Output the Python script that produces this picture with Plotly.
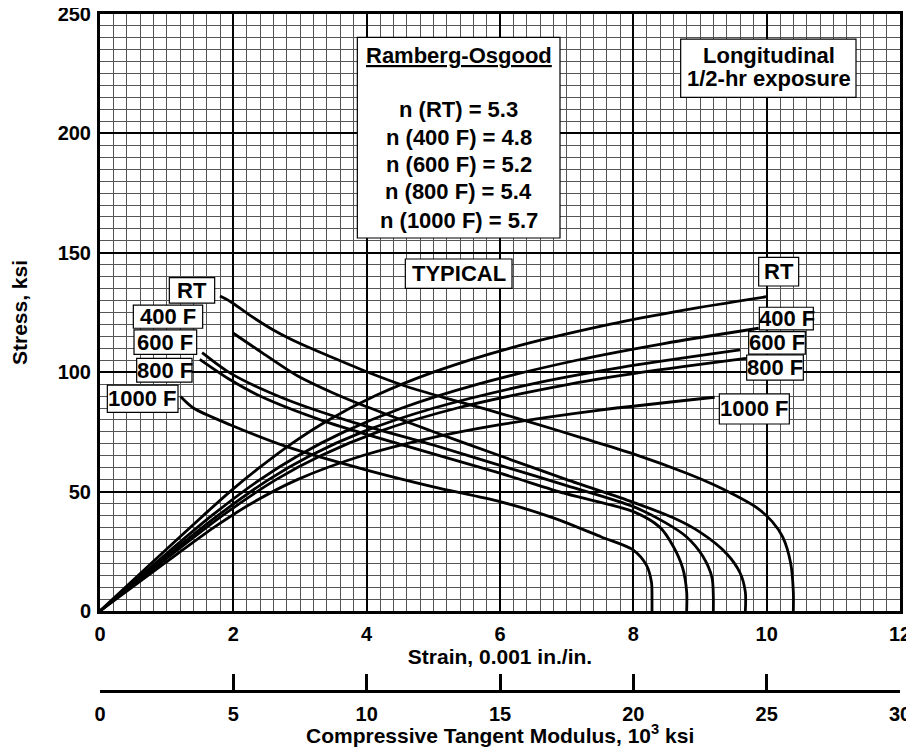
import plotly.graph_objects as go

# Stress-strain curves: strain (0.001 in./in.) vs stress (ksi)
rt_strain = [0, 0.77, 1.55, 1.95, 2.39, 2.87, 3.43, 4.12, 5.0, 6.14, 7.64, 8.76, 10.0]
rt_stress = [0, 20, 40, 50, 60, 70, 80, 90, 100, 110, 120, 126, 131.6]

f400_strain = [0, 0.83, 1.68, 2.40, 2.97, 3.66, 4.53, 5.67, 7.15, 8.46, 9.88]
f400_stress = [0, 20, 40, 55, 65, 75, 85, 95, 105, 112, 118.4]

f600_strain = [0, 0.87, 1.77, 2.53, 3.15, 3.94, 5.01, 6.47, 7.82, 9.60]
f600_stress = [0, 20, 40, 55, 65, 75, 85, 95, 102, 109.3]

f800_strain = [0, 0.91, 1.84, 2.64, 3.31, 4.17, 5.36, 7.05, 8.14, 9.69]
f800_stress = [0, 20, 40, 55, 65, 75, 85, 95, 100, 105.8]

f1000_strain = [0, 0.97, 1.71, 2.27, 2.96, 3.93, 4.89, 6.00, 7.47, 9.22]
f1000_stress = [0, 20, 35, 45, 55, 65, 72, 78, 84, 89.5]

# Tangent modulus curves: modulus (10^3 ksi) vs stress (ksi)
rt_mod = [4.5, 4.9, 5.6, 6.5, 7.5, 8.5, 10.0, 11.5, 13.0, 14.4, 16.1, 18.1, 20.0, 22.0, 23.0, 23.8, 24.6, 25.2, 25.6, 25.9, 26.0, 26.0]
rt_mod_stress = [131.9, 129.5, 124, 117.7, 112, 107.2, 100.2, 94.0, 89.0, 84.7, 79.2, 72.4, 65.8, 57.7, 53.0, 48.6, 43.5, 37.5, 31.0, 20, 8, 0]

f400_mod = [5.0, 6.1, 7.4, 8.7, 10.0, 12.4, 15.0, 17.5, 20.0, 21.5, 22.5, 23.5, 24.0, 24.2, 24.2]
f400_mod_stress = [116.3, 108, 98.5, 91.5, 85.5, 75.5, 65, 55, 45.5, 39, 33, 24, 16, 8, 0]

f600_mod = [3.83, 4.9, 6.9, 9.5, 12.5, 15.0, 17.5, 20.0, 21.2, 22.0, 22.6, 22.95, 23.0, 23.0]
f600_mod_stress = [108.2, 99.5, 89, 79, 69.5, 61, 52.5, 43.7, 37, 31, 23, 14, 6, 0]

f800_mod = [3.74, 4.9, 6.0, 8.4, 11.5, 15.0, 17.5, 20.0, 21.0, 21.5, 21.85, 22.0, 22.0]
f800_mod_stress = [105.4, 96.7, 90, 79.5, 69, 57.7, 49, 41.6, 35, 27, 18, 8, 0]

f1000_mod = [3.02, 3.5, 4.9, 7.0, 10.0, 12.5, 15.0, 17.0, 18.8, 20.0, 20.5, 20.68, 20.7, 20.7]
f1000_mod_stress = [89.8, 85, 77.9, 68.8, 59, 52, 45.8, 39, 31, 25.5, 19, 12, 5, 0]

n_labels = ["n (RT) = 5.3", "n (400 F) = 4.8", "n (600 F) = 5.2", "n (800 F) = 5.4", "n (1000 F) = 5.7"]

FONT = "Liberation Sans, Arial, sans-serif"
tick_font = dict(family=FONT, size=20, color="black", weight="bold")
title_font = dict(family=FONT, size=21, color="black", weight="bold")
note_font = dict(family=FONT, size=22, color="black", weight="bold")

fig = go.Figure()

curve_line = dict(color="black", width=2.8, shape="spline", smoothing=0.8)
for xs, ys in [(rt_strain, rt_stress), (f400_strain, f400_stress), (f600_strain, f600_stress),
               (f800_strain, f800_stress), (f1000_strain, f1000_stress)]:
    fig.add_trace(go.Scatter(x=xs, y=ys, mode="lines", line=curve_line,
                             showlegend=False, hoverinfo="skip"))

for xs, ys in [(rt_mod, rt_mod_stress), (f400_mod, f400_mod_stress), (f600_mod, f600_mod_stress),
               (f800_mod, f800_mod_stress), (f1000_mod, f1000_mod_stress)]:
    fig.add_trace(go.Scatter(x=xs, y=ys, xaxis="x2", mode="lines", line=curve_line,
                             showlegend=False, hoverinfo="skip"))

# boxes (strain / stress coordinates)
boxes = [
    (3.86, 6.90, 156.2, 240.2),    # Ramberg-Osgood
    (8.71, 11.34, 215.1, 239.5),   # Longitudinal
    (4.58, 6.18, 135.1, 147.4),    # TYPICAL
    (1.04, 1.72, 128.9, 139.6),    # left RT
    (0.50, 1.54, 118.4, 128.1),    # left 400 F
    (0.51, 1.45, 107.5, 117.7),    # left 600 F
    (0.55, 1.38, 95.8, 105.8),     # left 800 F
    (0.11, 1.17, 83.2, 94.6),      # left 1000 F
    (9.88, 10.48, 136.1, 148.1),   # right RT
    (9.89, 10.70, 117.7, 127.2),   # right 400 F
    (9.73, 10.58, 107.6, 117.0),   # right 600 F
    (9.70, 10.55, 96.7, 107.2),    # right 800 F
    (9.29, 10.34, 78.3, 90.9),     # right 1000 F
]
for x0, x1, y0, y1 in boxes:
    fig.add_shape(type="rect", xref="x", yref="y", x0=x0, x1=x1, y0=y0, y1=y1,
                  line=dict(color="black", width=1.2), fillcolor="white", layer="above")

texts = [
    ("<u>Ramberg-Osgood</u>", 5.38, 232.8),
    (n_labels[0], 5.38, 209.8),
    (n_labels[1], 5.38, 198.1),
    (n_labels[2], 5.38, 186.8),
    (n_labels[3], 5.38, 175.5),
    (n_labels[4], 5.38, 163.7),
    ("Longitudinal", 10.03, 232.8),
    ("1/2-hr exposure", 10.03, 223.2),
    ("TYPICAL", 5.38, 141.2),
    ("RT", 1.38, 134.4),
    ("400 F", 1.02, 123.2),
    ("600 F", 0.98, 112.6),
    ("800 F", 0.97, 100.8),
    ("1000 F", 0.64, 88.9),
    ("RT", 10.18, 142.1),
    ("400 F", 10.30, 122.4),
    ("600 F", 10.15, 112.3),
    ("800 F", 10.13, 102.0),
    ("1000 F", 9.82, 84.6),
]
for t, x, y in texts:
    fig.add_annotation(text=t, x=x, y=y, xref="x", yref="y", showarrow=False,
                       font=note_font, xanchor="center", yanchor="middle")

# title of the lower (tangent modulus) scale
fig.add_annotation(text="Compressive Tangent Modulus, 10<sup>3</sup> ksi", xref="paper", yref="paper",
                   x=0.5, y=-0.064, showarrow=False, font=title_font,
                   xanchor="center", yanchor="middle")

fig.update_layout(
    width=914, height=748,
    margin=dict(l=92, r=22, t=6, b=65),
    paper_bgcolor="white", plot_bgcolor="white",
    showlegend=False,
    xaxis=dict(
        range=[0, 12], tick0=0, dtick=2, anchor="y",
        showgrid=True, gridcolor="black", gridwidth=2,
        minor=dict(dtick=0.2, showgrid=True, gridcolor="#555555", gridwidth=1),
        showline=True, linecolor="black", linewidth=3, mirror=True,
        zeroline=False, ticks="", tickfont=tick_font, ticklabelstandoff=3,
        ticklabeloverflow="allow",
        title=dict(text="Strain, 0.001 in./in.", font=title_font, standoff=4),
        automargin=False,
    ),
    xaxis2=dict(
        range=[0, 30], tick0=0, dtick=5, overlaying="x", anchor="free", position=0, side="bottom",
        showgrid=False, zeroline=False, showline=True, linecolor="black", linewidth=3,
        ticks="inside", ticklen=16, tickwidth=3, tickcolor="black",
        tickfont=tick_font, ticklabelstandoff=4, ticklabeloverflow="allow",
        automargin=False,
    ),
    yaxis=dict(
        range=[0, 250], tick0=0, dtick=50, domain=[0.1182, 1],
        showgrid=True, gridcolor="black", gridwidth=2,
        minor=dict(dtick=5, showgrid=True, gridcolor="#555555", gridwidth=1),
        showline=True, linecolor="black", linewidth=3, mirror=True,
        zeroline=False, ticks="", tickfont=tick_font, ticklabelstandoff=2,
        ticklabeloverflow="allow",
        title=dict(text="Stress, ksi", font=title_font, standoff=27),
        automargin=False,
    ),
)

fig.write_html("out.html")
